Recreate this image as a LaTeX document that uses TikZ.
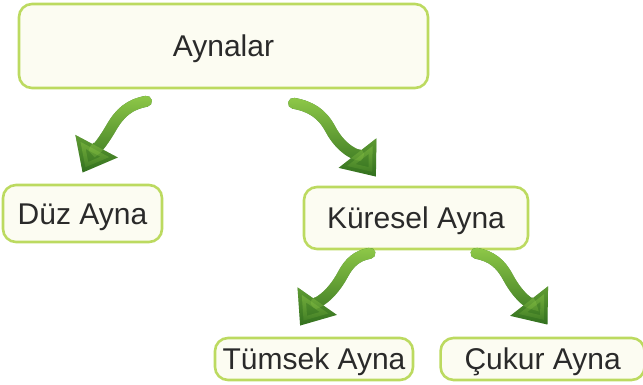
\documentclass[tikz,border=0pt]{standalone}
\usepackage{fontspec}
\setmainfont{Liberation Sans}
\usepackage{xcolor}
\usepackage{tikz}
\usetikzlibrary{shapes, positioning, arrows.meta, fadings}
\definecolor{boxline}{RGB}{188,218,96}
\definecolor{boxfill}{RGB}{252,252,242}
\definecolor{txtgray}{RGB}{42,42,42}
\definecolor{arrowdark}{RGB}{44,106,28}
\definecolor{arrowlight}{RGB}{142,200,72}
\tikzfading[name=fadedown, top color=transparent!0, bottom color=transparent!100]

\begin{document}
\begin{tikzpicture}[x=1pt, y=1pt,
            style = {semithick},
            kutu/.style = {draw=boxline, line width=2.6pt, fill=boxfill, rounded corners=13pt,
                inner sep=0pt, text=txtgray, text height=21.5pt, text depth=0pt,
                font=\fontsize{30}{36}\selectfont},
            egri/.style = {line width=11pt, draw=arrowdark, line cap=round,
                -{Triangle[length=30pt, width=46pt]},
                postaction={draw=arrowlight, path fading=fadedown}}]
            \useasboundingbox (0,0) rectangle (643,385);
            \node (ayn) [kutu, minimum width=409pt, minimum height=84pt] at (223.5,339) {Aynalar};
            \node (duz) [kutu, minimum width=159pt, minimum height=57pt] at (82.5,171.5) {Düz Ayna};
            \node (kur) [kutu, minimum width=224pt, minimum height=62pt] at (416,167) {Küresel Ayna};
            \node (tum) [kutu, minimum width=198pt, minimum height=42pt] at (314,26) {Tümsek Ayna};
            \node (cuk) [kutu, minimum width=204pt, minimum height=42pt, right=25pt of tum] {Çukur Ayna};
            % egri oklar
            \draw[egri] ([shift={(-77,-12)}]ayn.south) to[out=190, in=60] ([shift={(-112,-38)}]ayn.south)
                to[out=240, in=62] ([shift={(0,11)}]duz.north);
            \draw[egri] ([shift={(70,-14)}]ayn.south) to[out=-10, in=118] ([shift={(107,-40)}]ayn.south)
                to[out=-62, in=128] ([shift={(-40,9)}]kur.north);
            \draw[egri] ([shift={(-46,-3)}]kur.south) to[out=190, in=62] ([shift={(-73,-24)}]kur.south)
                to[out=242, in=55] ([shift={(-14,11)}]tum.north);
            \draw[egri] ([shift={(60,-3)}]kur.south) to[out=-10, in=118] ([shift={(92,-27)}]kur.south)
                to[out=-62, in=128] ([shift={(5,12)}]cuk.north);
\end{tikzpicture}
\end{document}
